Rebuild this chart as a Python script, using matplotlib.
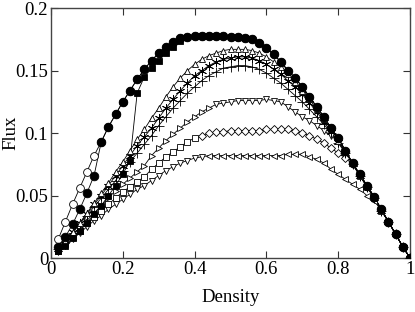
import matplotlib
matplotlib.use("Agg")
import matplotlib.pyplot as plt

plt.rcParams["font.family"] = ["Liberation Serif", "DejaVu Serif"]
plt.rcParams["mathtext.fontset"] = "stix"

density = [0.02, 0.04, 0.06, 0.08, 0.10, 0.12, 0.14, 0.16, 0.18, 0.20,
           0.22, 0.24, 0.26, 0.28, 0.30, 0.32, 0.34, 0.36, 0.38, 0.40,
           0.42, 0.44, 0.46, 0.48, 0.50, 0.52, 0.54, 0.56, 0.58, 0.60,
           0.62, 0.64, 0.66, 0.68, 0.70, 0.72, 0.74, 0.76, 0.78, 0.80,
           0.82, 0.84, 0.86, 0.88, 0.90, 0.92, 0.94, 0.96, 0.98, 1.00]

# open circles (steepest start, joins the upper curve)
flux_open_circ = [0.015, 0.029, 0.043, 0.056, 0.069, 0.082, 0.093, 0.105, 0.115, 0.125,
                  0.134, 0.143, 0.151, 0.158, 0.164, 0.169, 0.173, 0.176, 0.177, 0.178,
                  0.178, 0.178, 0.178, 0.178, 0.177, 0.177, 0.176, 0.175, 0.172, 0.168,
                  0.163, 0.157, 0.150, 0.144, 0.137, 0.129, 0.121, 0.113, 0.104, 0.096,
                  0.086, 0.076, 0.067, 0.058, 0.049, 0.039, 0.029, 0.019, 0.009, 0.000]
# filled circles
flux_fill_circ = [0.009, 0.017, 0.027, 0.039, 0.052, 0.066, 0.093, 0.105, 0.115, 0.125,
                  0.134, 0.143, 0.151, 0.158, 0.164, 0.169, 0.173, 0.176, 0.177, 0.178,
                  0.178, 0.178, 0.178, 0.178, 0.177, 0.177, 0.176, 0.175, 0.172, 0.168,
                  0.163, 0.157, 0.150, 0.144, 0.137, 0.129, 0.121, 0.113, 0.104, 0.096,
                  0.086, 0.076, 0.067, 0.058, 0.049, 0.039, 0.029, 0.019, 0.009, 0.000]
# filled squares (jump near 0.24)
flux_fill_sq = [0.006, 0.010, 0.016, 0.022, 0.028, 0.035, 0.042, 0.050, 0.058, 0.067,
                0.078, 0.132, 0.145, 0.152, 0.158, 0.164, 0.169, 0.174, 0.177, 0.178,
                0.178, 0.178, 0.178, 0.178, 0.177, 0.177, 0.176, 0.175, 0.172, 0.168,
                0.163, 0.157, 0.150, 0.144, 0.137, 0.129, 0.121, 0.113, 0.104, 0.096,
                0.086, 0.076, 0.067, 0.058, 0.049, 0.039, 0.029, 0.019, 0.009, 0.000]
# triangles up
flux_tri_up = [0.007, 0.014, 0.021, 0.028, 0.036, 0.044, 0.052, 0.060, 0.069, 0.077,
               0.086, 0.095, 0.103, 0.112, 0.120, 0.129, 0.137, 0.144, 0.150, 0.155,
               0.159, 0.162, 0.164, 0.166, 0.167, 0.167, 0.167, 0.166, 0.164, 0.161,
               0.157, 0.153, 0.147, 0.141, 0.134, 0.127, 0.119, 0.111, 0.103, 0.094,
               0.085, 0.076, 0.066, 0.057, 0.048, 0.038, 0.029, 0.019, 0.009, 0.000]
# asterisks
flux_star = [0.007, 0.014, 0.021, 0.028, 0.035, 0.043, 0.050, 0.058, 0.066, 0.074,
             0.082, 0.090, 0.097, 0.104, 0.112, 0.120, 0.127, 0.134, 0.140, 0.146,
             0.150, 0.154, 0.157, 0.159, 0.160, 0.161, 0.161, 0.160, 0.158, 0.155,
             0.151, 0.147, 0.142, 0.137, 0.131, 0.124, 0.117, 0.109, 0.101, 0.093,
             0.084, 0.075, 0.066, 0.057, 0.048, 0.038, 0.029, 0.019, 0.009, 0.000]
# plus signs
flux_plus = [0.007, 0.013, 0.020, 0.027, 0.034, 0.041, 0.048, 0.055, 0.062, 0.070,
             0.077, 0.084, 0.091, 0.098, 0.106, 0.113, 0.120, 0.126, 0.132, 0.137,
             0.142, 0.146, 0.149, 0.152, 0.153, 0.154, 0.154, 0.153, 0.151, 0.148,
             0.144, 0.140, 0.135, 0.130, 0.125, 0.119, 0.113, 0.107, 0.100, 0.092,
             0.084, 0.075, 0.066, 0.057, 0.048, 0.038, 0.029, 0.019, 0.009, 0.000]
# triangles down (right-pointing at low density)
flux_tri_down = [0.006, 0.012, 0.018, 0.024, 0.030, 0.036, 0.042, 0.048, 0.054, 0.059,
                 0.064, 0.069, 0.074, 0.082, 0.088, 0.094, 0.099, 0.104, 0.109, 0.113,
                 0.117, 0.120, 0.123, 0.124, 0.125, 0.126, 0.126, 0.126, 0.126, 0.127,
                 0.126, 0.125, 0.121, 0.117, 0.113, 0.110, 0.106, 0.102, 0.098, 0.093,
                 0.086, 0.076, 0.067, 0.058, 0.049, 0.039, 0.029, 0.019, 0.009, 0.000]
# diamonds (squares at low density)
flux_diamond = [0.006, 0.011, 0.017, 0.022, 0.028, 0.033, 0.038, 0.043, 0.048, 0.053,
                0.057, 0.061, 0.065, 0.071, 0.076, 0.081, 0.085, 0.089, 0.093, 0.096,
                0.098, 0.100, 0.101, 0.101, 0.102, 0.102, 0.102, 0.102, 0.102, 0.103,
                0.103, 0.103, 0.103, 0.102, 0.100, 0.098, 0.095, 0.092, 0.088, 0.084,
                0.080, 0.075, 0.067, 0.058, 0.049, 0.039, 0.029, 0.019, 0.009, 0.000]
# triangles left (down-pointing at low density)
flux_tri_left = [0.005, 0.010, 0.015, 0.020, 0.025, 0.030, 0.034, 0.039, 0.043, 0.047,
                 0.051, 0.055, 0.058, 0.062, 0.066, 0.070, 0.073, 0.076, 0.078, 0.080,
                 0.081, 0.082, 0.082, 0.082, 0.082, 0.082, 0.082, 0.082, 0.082, 0.082,
                 0.082, 0.082, 0.083, 0.083, 0.083, 0.081, 0.079, 0.076, 0.071, 0.067,
                 0.063, 0.059, 0.055, 0.050, 0.046, 0.038, 0.029, 0.019, 0.009, 0.000]

asterisk = (6, 2, 0)


def curve(ax, y, m1, m2=None, cut=None, filled=False, ms=5.0):
    ax.plot(density, y, color="k", lw=0.6, zorder=2)
    fc = "k" if filled else "white"
    if m2 is None:
        ax.plot(density, y, ls="none", marker=m1, ms=ms, mfc=fc, mec="k",
                mew=0.6, zorder=3)
    else:
        ax.plot(density[:cut], y[:cut], ls="none", marker=m1, ms=ms, mfc=fc,
                mec="k", mew=0.6, zorder=3)
        ax.plot(density[cut:], y[cut:], ls="none", marker=m2, ms=ms, mfc=fc,
                mec="k", mew=0.6, zorder=3)


fig = plt.figure(figsize=(4.15, 3.12), dpi=100)
ax = fig.add_axes([0.1229, 0.173, 0.8651, 0.801])

curve(ax, flux_tri_left, "v", "<", cut=21)
curve(ax, flux_diamond, "s", "D", cut=20, ms=4.3)
curve(ax, flux_tri_down, ">", "v", cut=22)
curve(ax, flux_plus, "+", ms=6.5)
curve(ax, flux_star, asterisk, ms=6.5)
curve(ax, flux_tri_up, "^")
curve(ax, flux_fill_sq, "s", filled=True, ms=4.6)
curve(ax, flux_open_circ, "o", ms=5.6)
curve(ax, flux_fill_circ, "o", filled=True, ms=6.2)

ax.set_xlim(0, 1)
ax.set_ylim(0, 0.2)
ax.set_xticks([0, 0.2, 0.4, 0.6, 0.8, 1])
ax.set_xticklabels(["0", "0.2", "0.4", "0.6", "0.8", "1"])
ax.set_yticks([0, 0.05, 0.1, 0.15, 0.2])
ax.set_yticklabels(["0", "0.05", "0.1", "0.15", "0.2"])
ax.tick_params(direction="in", length=5, width=0.8, top=True, right=True,
               labelsize=13.5, colors="#333333", labelcolor="black", pad=2)
for s in ax.spines.values():
    s.set_color("#444444")
    s.set_linewidth(1.0)
ax.set_xlabel("Density", fontsize=13.5)
ax.set_ylabel("Flux", fontsize=13.5)
ax.xaxis.set_label_coords(0.5, -0.125)
ax.yaxis.set_label_coords(-0.088, 0.5)

fig.savefig("out.png", dpi=100)
